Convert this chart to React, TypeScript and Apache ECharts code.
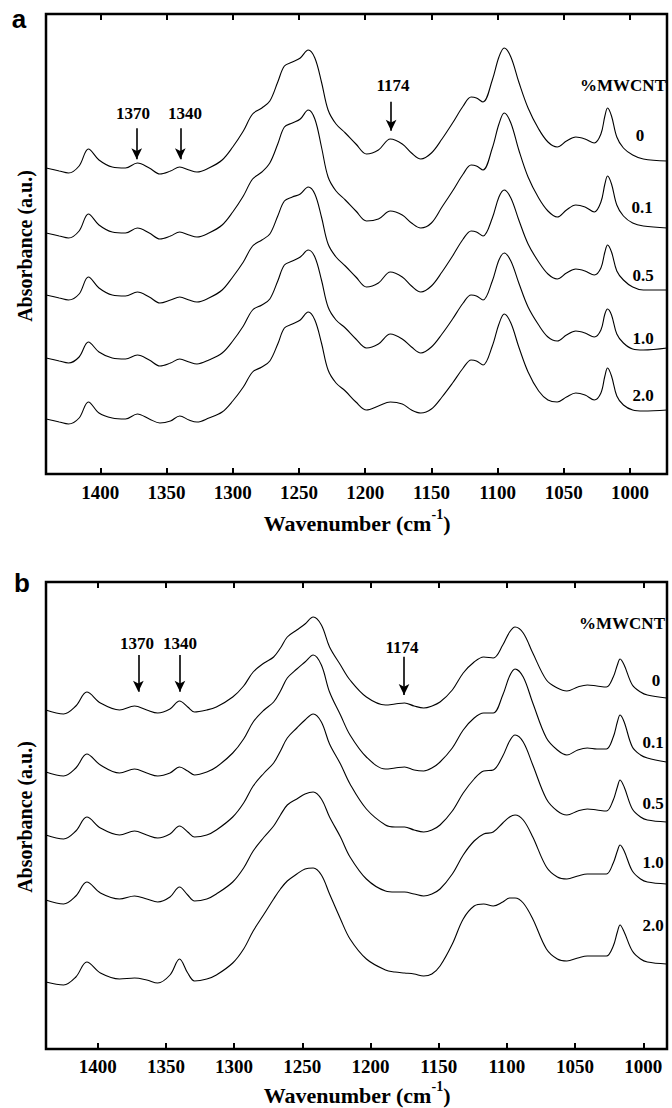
import React, { useEffect, useRef } from "react";
import * as echarts from "echarts";

// ---------- Panel a (wavenumber, cm-1) ----------
const WN_A = [1441, 1431, 1424, 1416, 1409, 1401, 1391, 1381, 1372, 1363, 1355, 1347, 1340, 1333, 1327, 1318, 1308, 1300, 1292, 1285, 1278, 1272, 1266, 1261, 1255, 1249, 1243, 1238, 1233, 1228, 1222, 1215, 1207, 1199, 1190, 1181, 1172, 1165, 1158, 1150, 1142, 1134, 1126, 1120, 1116, 1111, 1104, 1099, 1095, 1090, 1084, 1077, 1069, 1062, 1055, 1048, 1041, 1034, 1027, 1022, 1019, 1017, 1014, 1010, 1005, 998, 990, 972];

const A_0 = [306, 303, 301, 308, 325, 314, 307, 306, 311, 306, 300, 303, 307, 304, 302, 306, 314, 327, 343, 360, 366, 373, 392, 408, 412, 416, 424, 416, 392, 364, 350, 341, 330, 320, 324, 335, 330, 321, 315, 321, 335, 351, 368, 377, 376, 372, 394, 417, 426, 417, 392, 366, 345, 332, 327, 333, 337, 335, 331, 340, 358, 366, 358, 337, 326, 319, 315, 313];
const A_01 = [241, 238, 236, 243, 260, 249, 242, 241, 246, 241, 235, 238, 242, 239, 237, 241, 249, 262, 278, 295, 302, 311, 330, 347, 351, 355, 364, 355, 327, 297, 283, 274, 263, 253, 255, 263, 259, 251, 246, 251, 267, 283, 300, 309, 308, 304, 326, 350, 361, 351, 324, 297, 276, 263, 257, 264, 269, 267, 262, 272, 290, 298, 290, 269, 258, 251, 248, 246];
const A_05 = [179, 176, 174, 180, 197, 186, 179, 178, 182, 177, 171, 174, 177, 174, 172, 176, 184, 197, 212, 228, 234, 240, 258, 273, 277, 280, 287, 280, 257, 230, 217, 208, 197, 187, 191, 202, 197, 188, 182, 188, 202, 218, 235, 243, 242, 238, 256, 277, 284, 276, 254, 230, 212, 200, 195, 201, 205, 203, 199, 206, 222, 229, 222, 203, 194, 187, 184, 184];
const A_10 = [116, 113, 111, 117, 132, 122, 116, 115, 119, 114, 108, 111, 115, 112, 110, 114, 121, 133, 148, 164, 169, 175, 193, 209, 213, 217, 224, 217, 194, 167, 154, 146, 135, 126, 130, 140, 135, 127, 121, 127, 140, 155, 171, 179, 178, 174, 193, 214, 221, 213, 191, 167, 149, 137, 133, 139, 143, 141, 137, 144, 160, 165, 159, 140, 131, 125, 124, 126];
const A_20 = [55, 52, 50, 56, 72, 61, 56, 55, 60, 55, 51, 53, 58, 54, 52, 56, 62, 73, 87, 102, 107, 113, 130, 146, 150, 154, 162, 154, 131, 104, 91, 83, 72, 64, 68, 72, 70, 64, 61, 65, 77, 91, 106, 114, 113, 109, 128, 150, 160, 151, 127, 102, 83, 74, 72, 77, 81, 79, 74, 81, 98, 106, 98, 78, 69, 64, 63, 64];

// ---------- Panel b ----------
const WN_B = [1438, 1425, 1416, 1408, 1398, 1384, 1373, 1364, 1356, 1347, 1340, 1334, 1329, 1320, 1313, 1301, 1293, 1286, 1278, 1271, 1266, 1261, 1254, 1248, 1242, 1236, 1230, 1222, 1215, 1203, 1189, 1182, 1175, 1168, 1161, 1155, 1149, 1140, 1132, 1124, 1117, 1110, 1103, 1098, 1094, 1088, 1081, 1071, 1063, 1056, 1048, 1041, 1034, 1027, 1022, 1019, 1017, 1014, 1008, 1002, 997, 983];

const B_0 = [339, 335, 343, 357, 346, 339, 343, 339, 336, 340, 348, 342, 337, 339, 342, 352, 363, 377, 386, 392, 401, 412, 419, 425, 432, 424, 402, 384, 369, 352, 344, 345, 346, 343, 341, 343, 347, 359, 376, 387, 392, 391, 404, 417, 422, 416, 396, 369, 361, 358, 362, 364, 363, 362, 372, 384, 390, 384, 364, 357, 354, 351];
const B_01 = [277, 273, 281, 295, 284, 276, 280, 276, 273, 276, 282, 278, 274, 277, 282, 296, 310, 327, 339, 347, 358, 371, 380, 387, 394, 384, 357, 334, 314, 292, 280, 281, 282, 279, 278, 281, 287, 301, 319, 331, 336, 336, 354, 373, 380, 372, 346, 311, 299, 294, 299, 301, 300, 300, 312, 327, 334, 327, 302, 294, 291, 287];
const B_05 = [214, 210, 218, 232, 221, 214, 218, 214, 211, 215, 223, 217, 212, 214, 219, 232, 246, 263, 276, 286, 298, 311, 321, 329, 335, 327, 305, 285, 265, 240, 224, 222, 222, 219, 217, 219, 224, 238, 256, 270, 278, 279, 293, 308, 314, 307, 284, 250, 238, 234, 238, 240, 239, 238, 249, 262, 269, 262, 240, 232, 229, 227];
const B_10 = [149, 145, 153, 167, 156, 150, 153, 150, 147, 152, 162, 154, 148, 150, 155, 167, 181, 198, 212, 223, 234, 244, 250, 255, 257, 250, 232, 212, 192, 170, 158, 157, 157, 155, 153, 155, 160, 175, 194, 208, 215, 217, 226, 232, 234, 229, 212, 182, 172, 170, 173, 175, 175, 175, 186, 198, 204, 198, 178, 170, 167, 165];
const B_20 = [67, 64, 72, 87, 76, 70, 71, 69, 66, 74, 90, 76, 68, 70, 74, 86, 100, 118, 135, 150, 160, 168, 175, 180, 181, 174, 155, 130, 110, 90, 79, 77, 76, 75, 73, 75, 83, 105, 130, 143, 145, 143, 147, 151, 151, 146, 130, 100, 90, 88, 91, 93, 93, 93, 103, 117, 124, 117, 98, 90, 87, 85];

const CONC = ["0", "0.1", "0.5", "1.0", "2.0"];
const TICKS = [1000, 1050, 1100, 1150, 1200, 1250, 1300, 1350, 1400];
const ARROWS_A = [
  { label: "1370", wn: 1372.5, from: 345.7, to: 314.7 },
  { label: "1340", wn: 1339.6, from: 345.7, to: 314.7 },
  { label: "1174", wn: 1180.4, from: 372.3, to: 343.3 },
];
const ARROWS_B = [
  { label: "1370", wn: 1370.2, from: 394, to: 357.3 },
  { label: "1340", wn: 1339.7, from: 394, to: 357.3 },
  { label: "1174", wn: 1175.4, from: 392.3, to: 354 },
];

const SERIF = "'Liberation Serif', 'Times New Roman', serif";
const SANS = "'Liberation Sans', Arial, sans-serif";

export default function App() {
  const ref = useRef<HTMLDivElement>(null);

  useEffect(() => {
    if (!ref.current) return;
    const chart = echarts.init(ref.current, undefined, { renderer: "svg" });

    const gridA = { left: 46, top: 14, width: 621, height: 460 };
    const gridB = { left: 46, top: 582, width: 621, height: 467 };

    const xBase = (gridIndex: number, min: number, max: number, pos: "top" | "bottom", labels: boolean, margin: number) => ({
      type: "value",
      gridIndex,
      min,
      max,
      inverse: true,
      position: pos,
      axisLine: { show: false },
      splitLine: { show: false },
      axisTick: {
        show: true,
        inside: true,
        length: 6,
        customValues: TICKS,
        lineStyle: { color: "#000", width: 2 },
      },
      axisLabel: {
        show: labels,
        customValues: TICKS,
        formatter: (v: number) => String(v),
        margin,
        color: "#000",
        fontFamily: SERIF,
        fontWeight: "bold",
        fontSize: 19,
      },
    });

    const yBase = (gridIndex: number, max: number) => ({
      type: "value",
      gridIndex,
      min: 0,
      max,
      axisLine: { show: false },
      axisTick: { show: false },
      axisLabel: { show: false },
      splitLine: { show: false },
    });

    const mkSeries = (wn: number[], vals: number[], xi: number, yi: number, arrows?: typeof ARROWS_A) => {
      const s: any = {
        type: "line",
        xAxisIndex: xi,
        yAxisIndex: yi,
        data: wn.map((w, i) => [w, vals[i]]),
        showSymbol: false,
        smooth: 0.35,
        lineStyle: { color: "#000", width: 1.1 },
        silent: true,
      };
      if (arrows) {
        s.markLine = {
          silent: true,
          symbol: ["none", "arrow"],
          symbolSize: [8, 11],
          lineStyle: { color: "#000", width: 1.6, type: "solid" },
          label: { show: false },
          data: arrows.map((a) => [{ coord: [a.wn, a.from] }, { coord: [a.wn, a.to] }]),
        };
      }
      return s;
    };

    const seriesA = [A_0, A_01, A_05, A_10, A_20].map((v, i) => mkSeries(WN_A, v, 0, 0, i === 0 ? ARROWS_A : undefined));
    const seriesB = [B_0, B_01, B_05, B_10, B_20].map((v, i) => mkSeries(WN_B, v, 2, 1, i === 0 ? ARROWS_B : undefined));

    const txt = (x: number, y: number, text: string, size = 17, extra: any = {}) => ({
      type: "text",
      x,
      y,
      silent: true,
      style: {
        text,
        fill: "#000",
        font: `bold ${size}px ${SERIF}`,
        align: "center",
        verticalAlign: "middle",
        ...extra,
      },
    });

    const xTitle = (x: number, y: number) => ({
      type: "text",
      x,
      y,
      silent: true,
      style: {
        text: "{a|Wavenumber (cm}{s|-1}{a|)}",
        align: "center",
        verticalAlign: "middle",
        rich: {
          a: { fontFamily: SERIF, fontWeight: "bold", fontSize: 22, fill: "#000", lineHeight: 27, verticalAlign: "bottom" },
          s: { fontFamily: SERIF, fontWeight: "bold", fontSize: 14, fill: "#000", lineHeight: 27, verticalAlign: "top" },
        },
      },
    });

    const yTitle = (x: number, y: number) => ({
      type: "text",
      x,
      y,
      rotation: Math.PI / 2,
      silent: true,
      style: {
        text: "Absorbance (a.u.)",
        fill: "#000",
        font: `bold 20px ${SERIF}`,
        align: "center",
        verticalAlign: "middle",
      },
    });

    const labelsA = [
      [640, 135], [642, 207], [643, 275], [643, 338], [643, 395],
    ];
    const labelsB = [
      [656, 680], [653, 742], [653, 803], [653, 862], [653, 925],
    ];

    const graphics: any[] = [
      { type: "text", x: 19, y: 19, silent: true, style: { text: "a", fill: "#000", font: `bold 26px ${SANS}`, align: "center", verticalAlign: "middle" } },
      { type: "text", x: 22, y: 583, silent: true, style: { text: "b", fill: "#000", font: `bold 26px ${SANS}`, align: "center", verticalAlign: "middle" } },
      txt(623, 85, "%MWCNT"),
      txt(622, 623, "%MWCNT"),
      ...labelsA.map((p, i) => txt(p[0], p[1], CONC[i])),
      ...labelsB.map((p, i) => txt(p[0], p[1], CONC[i])),
      txt(133, 113, ARROWS_A[0].label),
      txt(185, 113, ARROWS_A[1].label),
      txt(393, 85, ARROWS_A[2].label),
      txt(137, 643, ARROWS_B[0].label),
      txt(180, 643, ARROWS_B[1].label),
      txt(402, 647, ARROWS_B[2].label),
      xTitle(357, 521),
      xTitle(357, 1093),
      yTitle(25, 246),
      yTitle(25, 817),
    ];

    chart.setOption({
      animation: false,
      backgroundColor: "#fff",
      grid: [
        { ...gridA, show: true, borderColor: "#000", borderWidth: 2.5, backgroundColor: "transparent", containLabel: false },
        { ...gridB, show: true, borderColor: "#000", borderWidth: 2.5, backgroundColor: "transparent", containLabel: false },
      ],
      xAxis: [
        xBase(0, 972.1, 1441, "bottom", true, 9),
        xBase(0, 972.1, 1441, "top", false, 8),
        xBase(1, 982.6, 1437.9, "bottom", true, 8),
        xBase(1, 982.6, 1437.9, "top", false, 8),
      ],
      yAxis: [yBase(0, 460), yBase(1, 467)],
      series: [...seriesA, ...seriesB],
      graphic: graphics,
    });

    return () => chart.dispose();
  }, []);

  return (
    <div
      ref={ref}
      style={{ position: "fixed", left: 0, top: 0, width: 672, height: 1108, background: "#fff" }}
    />
  );
}
